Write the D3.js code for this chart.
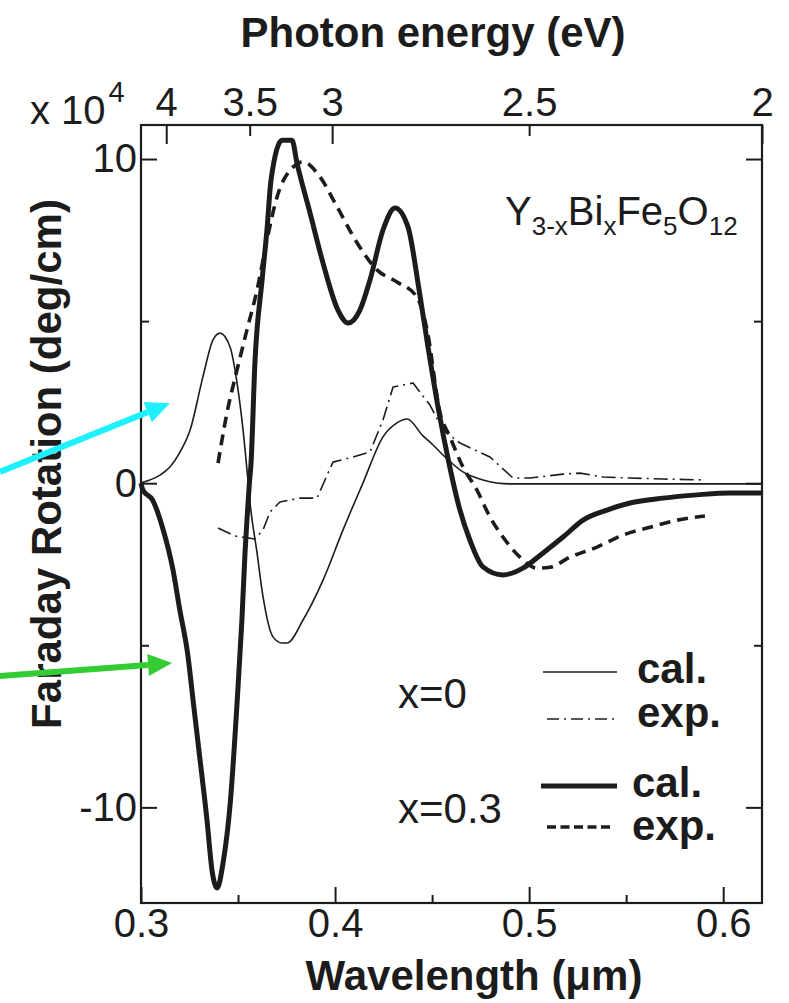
<!DOCTYPE html>
<html>
<head>
<meta charset="utf-8">
<script src="https://cdn.jsdelivr.net/npm/d3@7/dist/d3.min.js"></script>
<style>
body { margin: 0; background: #fff; }
svg text { font-family: "Liberation Sans", Arial, Helvetica, sans-serif; fill: #1c1c1c; }
</style>
</head>
<body>
<div id="chart"></div>
<script>
// wavelength (um), Faraday rotation (x10^4 deg/cm)
var x0Cal = [[0.300,0.01],[0.3046,0.10],[0.3098,0.25],[0.3149,0.50],[0.3201,0.96],[0.3253,1.64],[0.3319,3.28],
  [0.3371,4.42],[0.3407,4.63],[0.3459,4.20],[0.3495,3.09],[0.3526,1.64],[0.3551,0.10],[0.3562,-0.61],
  [0.3598,-2.15],[0.3629,-3.51],[0.3680,-4.74],[0.3727,-4.93],[0.3752,-4.93],[0.3835,-4.22],[0.3938,-2.99],
  [0.4041,-1.44],[0.4144,0.01],[0.4247,1.43],[0.4319,1.86],[0.4371,1.98],[0.4453,1.46],[0.4505,1.18],
  [0.4556,0.87],[0.4659,0.35],[0.4762,0.10],[0.4901,-0.02],[0.5175,-0.02],[0.620,-0.02]];

var x0Exp = [[0.3397,-1.38],[0.3484,-1.63],[0.3587,-1.72],[0.3629,-1.44],[0.3665,-0.89],[0.3716,-0.58],
  [0.3819,-0.46],[0.3907,-0.46],[0.3948,0.10],[0.3989,0.65],[0.4077,0.78],[0.4180,0.96],[0.4247,1.95],
  [0.4299,2.97],[0.4402,3.09],[0.4489,2.41],[0.4556,1.64],[0.4644,1.24],[0.4721,1.02],[0.4798,0.81],
  [0.4860,0.47],[0.4917,0.16],[0.5005,0.16],[0.5175,0.28],[0.5262,0.31],[0.5381,0.19],[0.5520,0.16],
  [0.5690,0.13],[0.5906,0.10]];

var x03Cal = [[0.300,0.00],[0.301,-0.21],[0.306,-0.52],[0.311,-1.35],[0.3165,-2.68],[0.320,-3.91],[0.324,-5.24],
  [0.327,-6.78],[0.330,-8.32],[0.334,-10.39],[0.3366,-11.94],[0.3392,-12.49],[0.3423,-11.71],[0.346,-9.86],
  [0.3495,-6.78],[0.352,-4.22],[0.3536,-2.15],[0.3546,-1.14],[0.3557,-0.12],[0.3567,0.62],[0.3587,3.71],
  [0.3624,6.27],[0.3649,7.81],[0.367,9.35],[0.3727,10.58],[0.3778,10.58],[0.3804,9.87],[0.3871,8.34],
  [0.3938,6.79],[0.4015,5.34],[0.4067,4.94],[0.4128,5.34],[0.418,6.27],[0.4247,7.81],[0.4309,8.49],
  [0.4376,7.90],[0.4433,5.96],[0.4479,4.20],[0.4536,2.17],[0.4587,0.62],[0.4639,-0.73],[0.4695,-1.76],
  [0.4762,-2.58],[0.4865,-2.83],[0.4968,-2.62],[0.5072,-2.15],[0.5175,-1.66],[0.5278,-1.14],[0.5401,-0.83],
  [0.552,-0.61],[0.569,-0.46],[0.5865,-0.36],[0.6035,-0.30],[0.620,-0.30]];

var x03Exp = [[0.3397,0.62],[0.3443,2.17],[0.3495,3.50],[0.3546,4.73],[0.3598,5.96],[0.3649,7.50],[0.3701,8.83],
  [0.3783,9.75],[0.3835,9.91],[0.3922,9.45],[0.4010,8.53],[0.4113,7.42],[0.4216,6.58],[0.4319,6.21],
  [0.4422,5.74],[0.4474,4.73],[0.4541,2.17],[0.4592,1.43],[0.4659,0.50],[0.4731,-0.21],[0.4798,-1.04],
  [0.4865,-1.66],[0.4953,-2.28],[0.5041,-2.62],[0.5108,-2.59],[0.5211,-2.28],[0.5350,-1.97],[0.5484,-1.60],
  [0.5623,-1.36],[0.5762,-1.14],[0.5906,-1.01]];

var xMajor = [0.3, 0.4, 0.5, 0.6];
var xMinor = [0.35, 0.45, 0.55];
var yMajor = [10, 0, -10];
var yMinor = [5, -5];
// photon energy ticks on top, placed where the figure puts them (um)
var energyLabels = ["4", "3.5", "3", "2.5", "2"];
var energyPos = [0.313, 0.356, 0.3985, 0.500, 0.620];
var energyLong = [true, false, true, false, true];

// annotation arrows, tail -> tip in data units
var cyanArrow = [[0.2273, 0.35], [0.3149, 2.47]];
var greenArrow = [[0.2273, -5.95], [0.3160, -5.55]];

var W = 789, H = 1003;
var plotL = 141, plotR = 762, plotT = 125, plotB = 903;
var ink = "#1c1c1c";

var svg = d3.select("#chart").append("svg")
    .attr("width", W).attr("height", H)
    .attr("viewBox", "0 0 " + W + " " + H);

svg.append("rect").attr("width", W).attr("height", H).attr("fill", "#fff");

var x = d3.scaleLinear().domain([0.3, 0.62]).range([plotL, plotR]);
var y = d3.scaleLinear().domain([-12.95, 11.05]).range([plotB, plotT]);

function styleAxis(g, size) {
  g.select(".domain").remove();
  g.selectAll("line").attr("stroke", ink).attr("stroke-width", 2);
  g.selectAll("text").style("font-size", size + "px").attr("fill", ink);
}

// bottom
svg.append("g").attr("transform", "translate(0," + plotB + ")")
  .call(d3.axisBottom(x).tickValues(xMajor).tickSize(-16).tickSizeOuter(0).tickPadding(6)
        .tickFormat(d3.format(".1f")))
  .call(styleAxis, 40);
svg.append("g").attr("transform", "translate(0," + plotB + ")")
  .call(d3.axisBottom(x).tickValues(xMinor).tickSize(-8).tickSizeOuter(0).tickFormat(""))
  .call(styleAxis, 40);

// left
svg.append("g").attr("transform", "translate(" + plotL + ",0)")
  .call(d3.axisLeft(y).tickValues(yMajor).tickSize(-16).tickSizeOuter(0).tickPadding(4)
        .tickFormat(function(d) { return String(d); }))
  .call(styleAxis, 40);
svg.append("g").attr("transform", "translate(" + plotL + ",0)")
  .call(d3.axisLeft(y).tickValues(yMinor).tickSize(-8).tickSizeOuter(0).tickFormat(""))
  .call(styleAxis, 40);

// right
svg.append("g").attr("transform", "translate(" + plotR + ",0)")
  .call(d3.axisRight(y).tickValues(yMajor).tickSize(-16).tickSizeOuter(0).tickFormat(""))
  .call(styleAxis, 40);
svg.append("g").attr("transform", "translate(" + plotR + ",0)")
  .call(d3.axisRight(y).tickValues(yMinor).tickSize(-8).tickSizeOuter(0).tickFormat(""))
  .call(styleAxis, 40);

// top: photon energy
var longPos = energyPos.filter(function(d, i) { return energyLong[i]; });
var shortPos = energyPos.filter(function(d, i) { return !energyLong[i]; });
svg.append("g").attr("transform", "translate(0," + plotT + ")")
  .call(d3.axisTop(x).tickValues(energyPos).tickSize(0).tickSizeOuter(0).tickPadding(9)
        .tickFormat(function(d, i) { return energyLabels[i]; }))
  .call(styleAxis, 40);
svg.append("g").attr("transform", "translate(0," + plotT + ")")
  .call(d3.axisTop(x).tickValues(longPos).tickSize(-19).tickSizeOuter(0).tickFormat(""))
  .call(styleAxis, 40);
svg.append("g").attr("transform", "translate(0," + plotT + ")")
  .call(d3.axisTop(x).tickValues(shortPos).tickSize(-11).tickSizeOuter(0).tickFormat(""))
  .call(styleAxis, 40);

// frame
svg.append("rect")
  .attr("x", x(0.3)).attr("y", y(11.05))
  .attr("width", x(0.62) - x(0.3)).attr("height", y(-12.95) - y(11.05))
  .attr("fill", "none").attr("stroke", ink).attr("stroke-width", 2.2);

// curves
var smooth = d3.line().x(function(d) { return x(d[0]); }).y(function(d) { return y(d[1]); })
  .curve(d3.curveMonotoneX);
var straight = d3.line().x(function(d) { return x(d[0]); }).y(function(d) { return y(d[1]); });

var series = [
  { data: x0Cal,  line: smooth,   width: 1.6, dash: null,        legendDash: null },
  { data: x0Exp,  line: straight, width: 1.6, dash: "14,5,2,5",  legendDash: "12,5,2,5" },
  { data: x03Cal, line: smooth,   width: 5,   dash: null,        legendDash: null },
  { data: x03Exp, line: smooth,   width: 3.6, dash: "11,7",      legendDash: "9,4.5" }
];

svg.append("g").selectAll("path")
  .data(series)
  .enter().append("path")
  .attr("d", function(d) { return d.line(d.data); })
  .attr("fill", "none")
  .attr("stroke", ink)
  .attr("stroke-width", function(d) { return d.width; })
  .attr("stroke-dasharray", function(d) { return d.dash; })
  .attr("stroke-linejoin", "round");

// legend
var lg = svg.append("g");
lg.append("text").attr("x", 398).attr("y", 708).style("font-size", "42px").text("x=0");
lg.append("text").attr("x", 398).attr("y", 823).style("font-size", "42px").text("x=0.3");

var legendRows = [
  { x1: 543, x2: 617, y: 672, s: series[0], tx: 637, ty: 683, label: "cal." },
  { x1: 547, x2: 615, y: 719, s: series[1], tx: 637, ty: 727, label: "exp." },
  { x1: 541, x2: 617, y: 786, s: series[2], tx: 632, ty: 797, label: "cal." },
  { x1: 547, x2: 611, y: 827, s: series[3], tx: 632, ty: 840, label: "exp." }
];
legendRows.forEach(function(r) {
  lg.append("line").attr("x1", r.x1).attr("x2", r.x2).attr("y1", r.y).attr("y2", r.y)
    .attr("stroke", ink).attr("stroke-width", r.s.width)
    .attr("stroke-dasharray", r.s.legendDash);
  lg.append("text").attr("x", r.tx).attr("y", r.ty)
    .style("font-size", "42px").style("font-weight", "bold").text(r.label);
});

// compound label
var formula = svg.append("text").attr("x", 505).attr("y", 225).style("font-size", "40px");
[["Y", 0], ["3-x", 1], ["Bi", 0], ["x", 1], ["Fe", 0], ["5", 1], ["O", 0], ["12", 1]].forEach(function(p, i, arr) {
  var prevSub = i > 0 ? arr[i - 1][1] : 0;
  var t = formula.append("tspan").text(p[0]);
  if (p[1]) t.style("font-size", "26px").attr("dy", 10);
  else if (prevSub) t.attr("dy", -10);
});

// x 10^4
var mult = svg.append("text").attr("x", 30).attr("y", 124).style("font-size", "40px");
mult.append("tspan").text("x 10");
mult.append("tspan").attr("dy", -22).attr("dx", 3).style("font-size", "29px").text("4");

// axis titles
svg.append("text").attr("x", 433).attr("y", 47).attr("text-anchor", "middle")
  .style("font-size", "42px").style("font-weight", "bold").text("Photon energy (eV)");
svg.append("text").attr("x", 474).attr("y", 990).attr("text-anchor", "middle")
  .style("font-size", "42px").style("font-weight", "bold").text("Wavelength (\u03bcm)");
svg.append("text").attr("transform", "translate(61,464) rotate(-90)").attr("text-anchor", "middle")
  .style("font-size", "42px").style("font-weight", "bold").text("Faraday Rotation (deg/cm)");

// arrows
function arrow(pts, color) {
  var x1 = x(pts[0][0]), y1 = y(pts[0][1]), x2 = x(pts[1][0]), y2 = y(pts[1][1]);
  var a = Math.atan2(y2 - y1, x2 - x1), len = 24, half = 11;
  var bx = x2 - len * Math.cos(a), by = y2 - len * Math.sin(a);
  svg.append("line").attr("x1", x1).attr("y1", y1).attr("x2", bx).attr("y2", by)
    .attr("stroke", color).attr("stroke-width", 6);
  svg.append("path")
    .attr("d", "M" + x2 + "," + y2 +
      "L" + (bx + half * Math.sin(a)) + "," + (by - half * Math.cos(a)) +
      "L" + (bx - half * Math.sin(a)) + "," + (by + half * Math.cos(a)) + "Z")
    .attr("fill", color);
}
arrow(cyanArrow, "#1ff0ff");
arrow(greenArrow, "#33cc33");
</script>
</body>
</html>
